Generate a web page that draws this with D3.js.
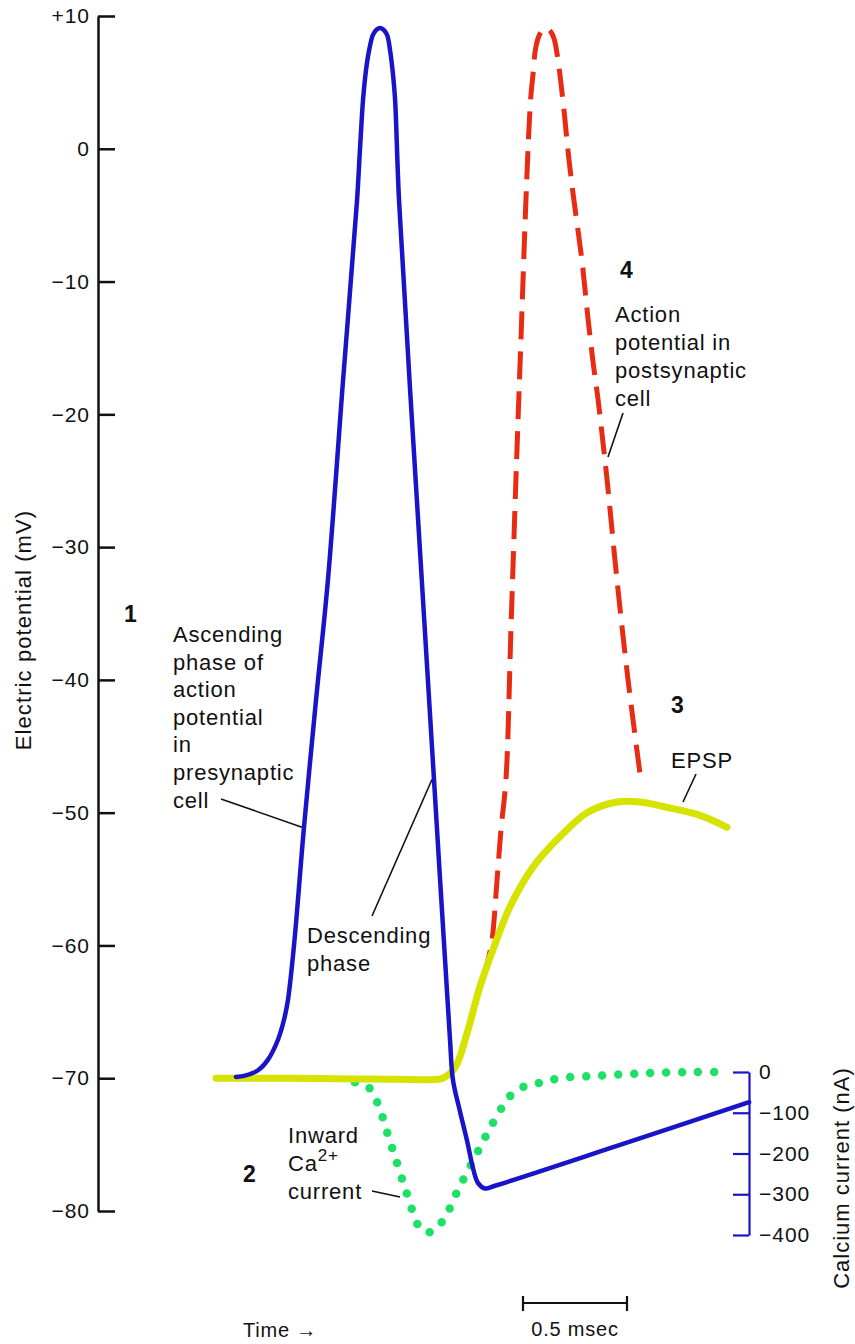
<!DOCTYPE html>
<html>
<head>
<meta charset="utf-8">
<script src="https://cdn.jsdelivr.net/npm/d3@7"></script>
<style>
  html, body { margin: 0; padding: 0; background: #fff; }
  svg { display: block; }
  text { font-family: "Liberation Sans", Arial, Helvetica, sans-serif; fill: #111; }
</style>
</head>
<body>
<svg id="chart" width="855" height="1344"></svg>
<script>
// ---------------- data ----------------
// time in ms, potential in mV
const presynapticT = [0.096, 0.139, 0.202, 0.250, 0.298, 0.327, 0.346, 0.375, 0.423, 0.481, 0.538, 0.611, 0.678, 0.692, 0.707, 0.721, 0.736, 0.755, 0.774, 0.788, 0.803, 0.822, 0.837, 0.851, 0.861, 0.880, 0.966, 1.048, 1.125, 1.139, 1.173, 1.207, 1.236, 1.260, 1.293, 1.341, 1.928, 2.563];
const presynapticMV = [-69.9, -69.8, -69.4, -68.6, -67.1, -65.6, -64.1, -60.0, -51.1, -41.5, -32.5, -17.4, -3.9, -0.1, 3.7, 5.9, 7.4, 8.6, 9.0, 9.1, 9.0, 8.6, 7.4, 5.6, 3.7, -3.9, -26.5, -47.5, -67.1, -70.1, -72.5, -74.7, -76.8, -77.9, -78.3, -78.1, -75.1, -71.8];

const epspT = [0, 0.35, 0.70, 0.95, 1.05, 1.091, 1.149, 1.207, 1.269, 1.332, 1.413, 1.524, 1.654, 1.784, 1.928, 2.038, 2.168, 2.327, 2.457];
const epspMV = [-70.0, -70.0, -70.05, -70.1, -70.1, -70.0, -69.2, -66.6, -63.1, -60.3, -57.1, -54.1, -51.8, -50.0, -49.2, -49.2, -49.6, -50.2, -51.1];

const postsynapticT = [1.284, 1.308, 1.327, 1.351, 1.370, 1.394, 1.418, 1.442, 1.466, 1.490, 1.505, 1.514, 1.524, 1.534, 1.548, 1.567, 1.587, 1.606, 1.625, 1.644, 1.673, 1.692, 1.716, 1.760, 1.788, 1.813, 1.837, 1.861, 1.880, 1.928, 1.981, 2.038];
const postsynapticMV = [-62.4, -61.1, -59.6, -55.1, -51.3, -47.5, -36.2, -24.9, -14.4, -3.9, 1.6, 4.0, 5.6, 7.3, 8.3, 8.9, 9.1, 8.9, 8.3, 6.7, 2.9, -0.1, -3.3, -8.5, -12.7, -16.1, -18.9, -22.2, -24.9, -32.5, -40.0, -47.0];

// calcium current in nA
const calciumT = [0.668, 0.736, 0.779, 0.827, 0.875, 0.923, 0.976, 1.010, 1.043, 1.096, 1.163, 1.236, 1.308, 1.380, 1.428, 1.500, 1.577, 1.654, 1.808, 1.976, 2.130, 2.288, 2.442];
const calciumNA = [-25, -39, -79, -155, -231, -307, -380, -393, -390, -361, -290, -218, -147, -83, -52, -32, -25, -15, -10, -5, -2, 0, 0];

const potentialTicks = [10, 0, -10, -20, -30, -40, -50, -60, -70, -80];
const currentTicks = [0, -100, -200, -300, -400];
const scaleBarStart = 1.476; // ms
const scaleBarLength = 0.5;  // ms

// ---------------- scales ----------------
const svg = d3.select("#chart");
const x = d3.scaleLinear().domain([0, 2.5]).range([216, 736]);
const y = d3.scaleLinear().domain([-80, 10]).range([1211, 16]);
const yCa = d3.scaleLinear().domain([-400, 0]).range([1235, 1072]);

const minus = v => (v < 0 ? "\u2212" + Math.abs(v) : (v > 0 ? "+" + v : "0"));

// ---------------- left axis ----------------
const leftAxis = svg.append("g")
  .attr("transform", "translate(98,0)")
  .call(d3.axisLeft(y).tickValues(potentialTicks).tickSizeInner(-17).tickSizeOuter(0).tickPadding(8).tickFormat(minus));
leftAxis.select(".domain").attr("stroke", "#111").attr("stroke-width", 2.5);
leftAxis.selectAll(".tick line").attr("stroke", "#111").attr("stroke-width", 2.5);
leftAxis.selectAll(".tick text")
  .attr("font-size", 21).attr("letter-spacing", "1px")
  .style("font-family", '"Liberation Sans", Arial, sans-serif').attr("fill", "#111");

// ---------------- right axis ----------------
const rightAxis = svg.append("g")
  .attr("transform", "translate(749,0)")
  .call(d3.axisRight(yCa).tickValues(currentTicks).tickSizeInner(-16).tickSizeOuter(0).tickPadding(10).tickFormat(minus));
rightAxis.select(".domain").attr("stroke", "#1a14c8").attr("stroke-width", 2.2);
rightAxis.selectAll(".tick line").attr("stroke", "#1a14c8").attr("stroke-width", 2.2);
rightAxis.selectAll(".tick text")
  .attr("font-size", 21).attr("letter-spacing", "1px")
  .style("font-family", '"Liberation Sans", Arial, sans-serif').attr("fill", "#111");

// axis titles
svg.append("text")
  .attr("transform", "translate(31,630) rotate(-90)")
  .attr("text-anchor", "middle").attr("font-size", 22).attr("letter-spacing", "1.1px")
  .text("Electric potential (mV)");
svg.append("text")
  .attr("transform", "translate(849,1178) rotate(-90)")
  .attr("text-anchor", "middle").attr("font-size", 22).attr("letter-spacing", "1px")
  .text("Calcium current (nA)");

// ---------------- curves ----------------
const curve = d3.curveCatmullRom.alpha(0.5);
const mvLine = d3.line().x(d => x(d[0])).y(d => y(d[1])).curve(curve);
const caLine = d3.line().x(d => x(d[0])).y(d => yCa(d[1])).curve(curve);

const pre = d3.zip(presynapticT, presynapticMV);
const epsp = d3.zip(epspT, epspMV);
const post = d3.zip(postsynapticT, postsynapticMV);
const ca = d3.zip(calciumT, calciumNA);

svg.append("path").datum(post).attr("d", mvLine)
  .attr("fill", "none").attr("stroke", "#e62c14").attr("stroke-width", 5)
  .attr("stroke-dasharray", "28 12");

svg.append("path").datum(ca).attr("d", caLine)
  .attr("fill", "none").attr("stroke", "#1fe067").attr("stroke-width", 8.5)
  .attr("stroke-linecap", "round").attr("stroke-dasharray", "0 16");

svg.append("path").datum(epsp).attr("d", mvLine)
  .attr("fill", "none").attr("stroke", "#d6e200").attr("stroke-width", 7)
  .attr("stroke-linecap", "round");

svg.append("path").datum(pre).attr("d", mvLine)
  .attr("fill", "none").attr("stroke", "#1a14c8").attr("stroke-width", 4.5)
  .attr("stroke-linecap", "round");

// ---------------- annotations ----------------
const ann = svg.append("g").attr("font-size", 22).attr("letter-spacing", "0.8px");
function block(lines, x0, y0, lh) {
  lines.forEach((t, i) => ann.append("text").attr("x", x0).attr("y", y0 + i * lh).text(t));
}
function num(t, x0, y0) {
  svg.append("text").attr("x", x0).attr("y", y0).attr("font-size", 23).attr("font-weight", "bold").text(t);
}
function leader(x1, y1, x2, y2) {
  svg.append("line").attr("x1", x1).attr("y1", y1).attr("x2", x2).attr("y2", y2)
    .attr("stroke", "#111").attr("stroke-width", 1.6);
}

num("1", 124, 622);
block(["Ascending", "phase of", "action", "potential", "in", "presynaptic", "cell"], 173, 642, 27.6);
leader(221, 799, x(0.423) - 2, y(-51.1));

block(["Descending", "phase"], 307, 943, 27.6);
leader(372, 916, x(1.048) - 2, y(-47.5));

num("2", 243, 1182);
ann.append("text").attr("x", 288).attr("y", 1143).text("Inward");
const caText = ann.append("text").attr("x", 288).attr("y", 1171);
caText.append("tspan").text("Ca");
caText.append("tspan").attr("font-size", 17).attr("dy", -10).text("2+");
ann.append("text").attr("x", 288).attr("y", 1199).text("current");
leader(372, 1191, 400, 1197);

num("4", 620, 278);
block(["Action", "potential in", "postsynaptic", "cell"], 615, 322, 28);
leader(623, 413, 608, 457);

num("3", 671, 713);
ann.append("text").attr("x", 671).attr("y", 768).text("EPSP");
leader(696, 774, 683, 802);

// ---------------- time label & scale bar ----------------
svg.append("text").attr("x", 243).attr("y", 1337).attr("font-size", 20).attr("letter-spacing", "0.8px").text("Time \u2192");

const sb = svg.append("g").attr("stroke", "#111").attr("stroke-width", 2.2);
const sbx1 = x(scaleBarStart), sbx2 = x(scaleBarStart + scaleBarLength);
sb.append("line").attr("x1", sbx1).attr("x2", sbx2).attr("y1", 1303).attr("y2", 1303);
sb.append("line").attr("x1", sbx1).attr("x2", sbx1).attr("y1", 1296).attr("y2", 1311);
sb.append("line").attr("x1", sbx2).attr("x2", sbx2).attr("y1", 1296).attr("y2", 1311);
svg.append("text").attr("x", (sbx1 + sbx2) / 2).attr("y", 1336).attr("text-anchor", "middle")
  .attr("font-size", 20).attr("letter-spacing", "0.8px").text("0.5 msec");
</script>
</body>
</html>
